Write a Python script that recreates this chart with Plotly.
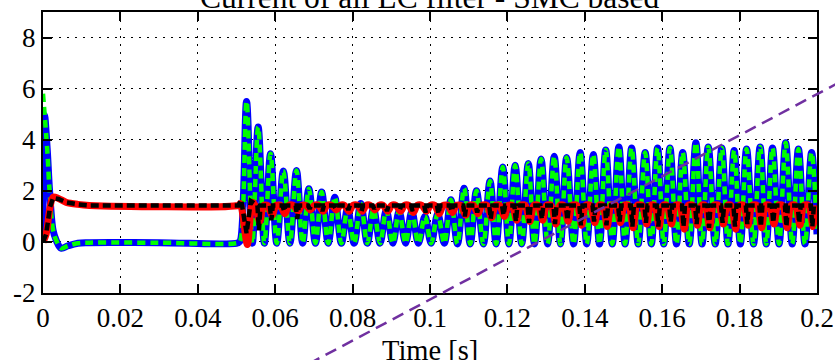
import plotly.graph_objects as go

# ---------------- data ----------------
# Filter inductor current (blue solid, green dashed on top)
blue_head_t = [0.0, 0.0004]
blue_head_v = [0.0, 4.95]
green_head_t = [0.0]
green_head_v = [5.8]
il_start_t = [0.0011, 0.0017, 0.0026, 0.0034, 0.0047, 0.0065, 0.0090, 0.0120, 0.0300, 0.0505, 0.0510]
il_start_v = [3.6, 2.0, 0.46, 0.07, -0.25, -0.15, -0.05, -0.03, -0.03, -0.03, 0.05]
il_peak_t = [0.0526, 0.0556, 0.0588, 0.0621, 0.0655, 0.0687, 0.0720, 0.0754, 0.0787, 0.0821,
             0.0854, 0.0887, 0.0920, 0.0953, 0.0987, 0.1020, 0.1054, 0.1088, 0.1120, 0.1155,
             0.1188, 0.1220, 0.1254, 0.1287, 0.1321, 0.1353, 0.1388, 0.1422, 0.1454, 0.1488,
             0.1521, 0.1556, 0.1588, 0.1620, 0.1653, 0.1687, 0.1719, 0.1754, 0.1786, 0.1818,
             0.1853, 0.1885, 0.1919, 0.1952, 0.1986]
il_peak_v = [5.5, 4.5, 3.45, 2.78, 2.8, 2.08, 1.95, 1.75, 1.3, 1.5,
             1.3, 1.25, 1.2, 1.2, 1.0, 1.1, 1.65, 2.1, 2.0, 2.38,
             2.93, 3.0, 3.07, 3.25, 3.35, 3.3, 3.5, 3.42, 3.6, 3.72,
             3.68, 3.5, 3.68, 3.68, 3.5, 3.88, 3.72, 3.68, 3.58, 3.64,
             3.72, 3.68, 3.88, 3.64, 3.5]
il_trough_t = [0.0541, 0.0572, 0.0604, 0.0638, 0.0671, 0.0704, 0.0737, 0.0771, 0.0804, 0.0838,
               0.0871, 0.0904, 0.0937, 0.0970, 0.1003, 0.1037, 0.1071, 0.1104, 0.1138, 0.1171,
               0.1204, 0.1237, 0.1270, 0.1304, 0.1337, 0.1371, 0.1405, 0.1438, 0.1471, 0.1504,
               0.1538, 0.1572, 0.1604, 0.1637, 0.1670, 0.1703, 0.1737, 0.1770, 0.1802, 0.1836,
               0.1869, 0.1902, 0.1936, 0.1969]
il_trough_v = [-0.05, -0.05, -0.05, -0.05, -0.05, -0.05, -0.05, -0.05, -0.05, -0.05,
               -0.05, -0.05, -0.05, -0.05, -0.05, -0.05, -0.08, -0.08, -0.08, -0.08,
               -0.08, -0.08, -0.08, -0.08, -0.08, -0.08, -0.08, -0.08, -0.08, -0.08,
               -0.08, -0.08, -0.08, -0.08, -0.08, -0.08, -0.08, -0.08, -0.08, -0.08,
               -0.08, -0.08, -0.08, -0.08]
il_end_t = [0.2000]
il_end_v = [0.3]

# Output current (red solid, black dashed on top)
red_head_t = [0.0, 0.0008, 0.0018, 0.0026, 0.0040, 0.0060, 0.0090, 0.0120, 0.0505, 0.0510, 0.0528, 0.0541]
red_head_v = [0.0, 0.3, 1.35, 1.75, 1.7, 1.55, 1.47, 1.43, 1.43, 1.5, -0.1, 1.55]
black_head_t = [0.0, 0.0008, 0.0018, 0.0026, 0.0040, 0.0060, 0.0090, 0.0120, 0.0505, 0.0512, 0.0526, 0.0537]
black_head_v = [0.0, 0.3, 1.35, 1.72, 1.68, 1.55, 1.47, 1.43, 1.43, 1.65, 0.34, 1.6]
io_base = 1.43
dip_t = [0.0558, 0.0590, 0.0623, 0.0657, 0.0689, 0.0722, 0.0756, 0.0789, 0.0823, 0.0856,
         0.0889, 0.0922, 0.0955, 0.0989, 0.1022, 0.1056, 0.1090, 0.1122, 0.1157, 0.1190,
         0.1222, 0.1256, 0.1289, 0.1323, 0.1355, 0.1390, 0.1424, 0.1456, 0.1490, 0.1523,
         0.1558, 0.1590, 0.1622, 0.1655, 0.1689, 0.1721, 0.1756, 0.1788, 0.1820, 0.1855,
         0.1887, 0.1921, 0.1954, 0.1988]
black_dip = [0.45, 0.85, 1.2, 0.9, 1.3, 1.2, 1.3, 1.25, 1.2, 1.3,
             1.2, 1.25, 1.2, 1.15, 1.1, 1.2, 1.0, 1.15, 0.9, 1.05,
             0.8, 0.75, 0.9, 0.7, 0.85, 0.65, 0.8, 0.65, 0.8, 0.6,
             0.75, 0.6, 0.8, 0.6, 0.7, 0.55, 0.75, 0.6, 0.7, 0.6,
             0.75, 0.6, 0.75, 0.6]
red_dip = [0.8, 1.05, 1.1, 1.2, 1.25, 1.2, 1.25, 1.2, 1.2, 1.25,
           1.2, 1.2, 1.15, 1.2, 1.1, 1.15, 1.05, 1.1, 0.95, 1.0,
           0.85, 0.8, 0.85, 0.7, 0.8, 0.65, 0.75, 0.6, 0.75, 0.55,
           0.7, 0.6, 0.7, 0.5, 0.65, 0.55, 0.7, 0.5, 0.65, 0.55,
           0.7, 0.55, 0.65, 0.6]

# purple dashed reference ramp (data units, extends beyond the axes)
ramp_t = [0.06, 0.22]
ramp_v = [-5.47, 7.39]

x_ticks = [0, 0.02, 0.04, 0.06, 0.08, 0.1, 0.12, 0.14, 0.16, 0.18, 0.2]
x_labels = ["0", "0.02", "0.04", "0.06", "0.08", "0.1", "0.12", "0.14", "0.16", "0.18", "0.2"]
y_ticks = [-2, 0, 2, 4, 6, 8]
y_labels = ["-2", "0", "2", "4", "6", "8"]
x_range = [0, 0.2]
y_range = [-2, 9]
title_text = "Current of all LC filter - SMC based"
xlabel_text = "Time [s]"

# ---------------- build series ----------------
pulses = sorted(zip(il_peak_t + il_trough_t, il_peak_v + il_trough_v))
pt = [p[0] for p in pulses]
pv = [p[1] for p in pulses]
blue_t = blue_head_t + il_start_t + pt + il_end_t
blue_v = blue_head_v + il_start_v + pv + il_end_v
green_t = green_head_t + il_start_t + pt + il_end_t
green_v = green_head_v + il_start_v + pv + il_end_v

red_t, red_v = list(red_head_t), list(red_head_v)
for t, d in zip(dip_t, red_dip):
    red_t += [t - 0.0010, t + 0.0002, t + 0.0012]
    red_v += [io_base, d, io_base]
red_t.append(0.2)
red_v.append(io_base)

black_t, black_v = list(black_head_t), list(black_head_v)
for t, d in zip(dip_t, black_dip):
    black_t += [t - 0.0004, t, t + 0.0004]
    black_v += [io_base, d, io_base]
black_t.append(0.2)
black_v.append(io_base)

FONT = "'Liberation Serif', 'Times New Roman', Times, 'DejaVu Serif', serif"
fig = go.Figure()
fig.add_trace(go.Scatter(x=blue_t, y=blue_v, mode="lines",
                         line=dict(color="#0000FF", width=7, shape="spline", smoothing=1)))
fig.add_trace(go.Scatter(x=green_t, y=green_v, mode="lines",
                         line=dict(color="#00FF00", width=4.5, shape="spline", smoothing=1, dash="8px,5px")))
fig.add_trace(go.Scatter(x=red_t, y=red_v, mode="lines",
                         line=dict(color="#FF0000", width=7, shape="spline", smoothing=0.8)))
fig.add_trace(go.Scatter(x=black_t, y=black_v, mode="lines",
                         line=dict(color="#000000", width=4.5, dash="8px,4px")))

# ramp converted from data units to paper units so it can run outside the axes
def to_px(t):
    return (t - x_range[0]) / (x_range[1] - x_range[0])

def to_py(v):
    return (v - y_range[0]) / (y_range[1] - y_range[0])

fig.add_shape(type="line", xref="paper", yref="paper",
              x0=to_px(ramp_t[0]), y0=to_py(ramp_v[0]), x1=to_px(ramp_t[1]), y1=to_py(ramp_v[1]),
              line=dict(color="#7030A0", width=2.5, dash="12px,7px"), layer="above")

axis_common = dict(showline=True, linecolor="black", linewidth=2, mirror="ticks",
                   ticks="inside", ticklen=9, tickwidth=2, tickcolor="black",
                   showgrid=True, gridcolor="black", gridwidth=1.3, griddash="2px,6px",
                   zeroline=False, automargin=False,
                   tickfont=dict(family=FONT, size=27, color="black"))
fig.update_xaxes(range=x_range, tickvals=x_ticks, ticktext=x_labels, **axis_common)
fig.update_yaxes(range=y_range, tickvals=y_ticks, ticktext=y_labels, **axis_common)

fig.add_annotation(text=title_text, xref="paper", yref="paper", x=0.5, y=1 + 15 / 281,
                   yanchor="middle", showarrow=False,
                   font=dict(family=FONT, size=31.5, color="black"))
fig.add_annotation(text=xlabel_text, xref="paper", yref="paper", x=0.5, y=-40 / 281,
                   yanchor="top", showarrow=False,
                   font=dict(family=FONT, size=28.5, color="black"))

fig.update_layout(width=835, height=360, showlegend=False,
                  margin=dict(l=43, r=18, t=12, b=67),
                  paper_bgcolor="white", plot_bgcolor="white")
fig.write_html("out.html", config={"displayModeBar": False},
               post_script="document.body.style.margin='0px';document.body.style.overflow='hidden';")
